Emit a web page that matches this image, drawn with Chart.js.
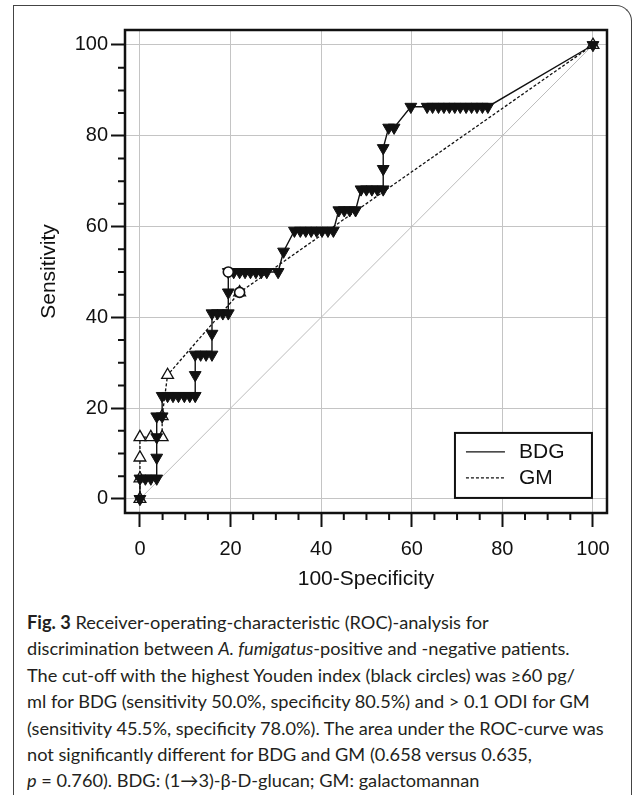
<!DOCTYPE html>
<html>
<head>
<meta charset="utf-8">
<script src="https://cdn.jsdelivr.net/npm/chart.js@4.4.1/dist/chart.umd.min.js"></script>
<style>
  html, body { margin: 0; padding: 0; background: #fff; }
  body { width: 633px; height: 795px; position: relative; overflow: hidden; }
  #box { position: absolute; left: 13px; top: 5px; width: 619px; height: 820px;
         border-left: 1.5px solid #444; border-top: 1.5px solid #444; border-right: 1.5px solid #444;
         border-top-right-radius: 16px; box-sizing: border-box; }
  #wrap { position: absolute; left: 0; top: 0; width: 633px; height: 600px; }
  #caption { position: absolute; left: 27px; top: 609px; font-family: Lato, sans-serif;
             font-size: 18.2px; line-height: 26.4px; color: #231f20; white-space: nowrap; }
</style>
</head>
<body>
<div id="box"></div>
<div id="wrap"><canvas id="roc"></canvas></div>
<div id="caption">
  <div><b>Fig. 3</b> Receiver-operating-characteristic (ROC)-analysis for</div>
  <div>discrimination between <i>A. fumigatus</i>-positive and -negative patients.</div>
  <div>The cut-off with the highest Youden index (black circles) was ≥60 pg/</div>
  <div>ml for BDG (sensitivity 50.0%, specificity 80.5%) and &gt; 0.1 ODI for GM</div>
  <div>(sensitivity 45.5%, specificity 78.0%). The area under the ROC-curve was</div>
  <div>not significantly different for BDG and GM (0.658 versus 0.635,</div>
  <div><i>p</i> = 0.760). BDG: (1→3)-β-D-glucan; GM: galactomannan</div>
</div>
<script>
// ROC points (100-specificity, sensitivity)
const bdgX = [0, 0, 1.2, 2.4, 3.7, 3.7, 3.7, 3.7, 4.9, 4.9, 6.1, 7.3, 8.5, 9.8, 11.0, 12.2,
  12.2, 12.2, 13.4, 14.6, 15.9, 15.9, 15.9, 17.1, 18.3, 19.5, 19.5, 19.5, 20.7, 22.0, 23.2,
  24.4, 25.6, 26.8, 28.0, 30.5, 31.7, 34.1, 35.4, 36.6, 37.8, 39.0, 40.2, 41.5, 42.7, 43.9,
  45.1, 46.3, 47.6, 48.8, 50.0, 51.2, 52.4, 53.7, 53.7, 53.7, 54.9, 56.1, 59.8, 63.4, 64.6,
  65.9, 67.1, 68.3, 69.5, 70.7, 72.0, 73.2, 74.4, 75.6, 76.8, 100];
const bdgY = [0, 4.5, 4.5, 4.5, 4.5, 9.1, 13.6, 18.2, 18.2, 22.7, 22.7, 22.7, 22.7, 22.7, 22.7, 22.7,
  27.3, 31.8, 31.8, 31.8, 31.8, 36.4, 40.9, 40.9, 40.9, 40.9, 45.5, 50.0, 50.0, 50.0, 50.0,
  50.0, 50.0, 50.0, 50.0, 50.0, 54.5, 59.1, 59.1, 59.1, 59.1, 59.1, 59.1, 59.1, 59.1, 63.6,
  63.6, 63.6, 63.6, 68.2, 68.2, 68.2, 68.2, 68.2, 72.7, 77.3, 81.8, 81.8, 86.4, 86.4, 86.4,
  86.4, 86.4, 86.4, 86.4, 86.4, 86.4, 86.4, 86.4, 86.4, 86.4, 100];

const gmX = [0, 0, 0, 0, 2.4, 4.9, 4.9, 6.1, 22.0, 100];
const gmY = [0, 4.5, 9.1, 13.6, 13.6, 13.6, 18.2, 27.3, 45.5, 100];

// Youden cut-offs
const cutX = [19.5, 22.0];
const cutY = [50.0, 45.5];

const refX = [0, 100];
const refY = [0, 100];

const majorTicks = [0, 20, 40, 60, 80, 100];
const minorTicks = [5, 10, 15, 25, 30, 35, 45, 50, 55, 65, 70, 75, 85, 90, 95];

const pts = (xs, ys) => xs.map((x, i) => ({ x: x, y: ys[i] }));

const fontFam = '"Liberation Sans", Arial, sans-serif';

const framePlugin = {
  id: 'frame',
  afterDraw(chart) {
    const { ctx, chartArea: a, scales } = chart;
    const sx = scales.x, sy = scales.y;
    ctx.save();
    // minor ticks
    ctx.strokeStyle = '#111';
    ctx.lineWidth = 2;
    ctx.beginPath();
    minorTicks.forEach(v => {
      const px = sx.getPixelForValue(v);
      ctx.moveTo(px, a.bottom);
      ctx.lineTo(px, a.bottom + 7);
      const py = sy.getPixelForValue(v);
      ctx.moveTo(a.left, py);
      ctx.lineTo(a.left - 7, py);
    });
    ctx.stroke();

    // legend box, bottom right
    const right = sx.getPixelForValue(100) - 1;
    const bottom = sy.getPixelForValue(0) - 1;
    const w = 137, h = 65;
    ctx.fillStyle = '#fff';
    ctx.fillRect(right - w, bottom - h, w, h);
    ctx.lineWidth = 2;
    ctx.strokeStyle = '#111';
    ctx.strokeRect(right - w, bottom - h, w, h);
    ctx.font = '21px ' + fontFam;
    ctx.textBaseline = 'middle';
    ctx.fillStyle = '#111';
    [1, 2].forEach((di, k) => {
      const ds = chart.data.datasets[di];
      const yy = bottom - h + 19 + k * 26;
      ctx.beginPath();
      ctx.setLineDash(ds.borderDash || []);
      ctx.lineWidth = 1.3;
      ctx.moveTo(right - w + 11, yy);
      ctx.lineTo(right - w + 50, yy);
      ctx.stroke();
      ctx.setLineDash([]);
      ctx.fillText(ds.label, right - w + 64, yy);
    });

    // frame
    ctx.lineWidth = 2.5;
    ctx.strokeRect(a.left, a.top, a.right - a.left, a.bottom - a.top);
    ctx.restore();
  }
};

const axisCommon = {
  type: 'linear',
  border: { display: false },
  grid: { color: '#c4c4c4', lineWidth: 1, tickColor: '#111', tickWidth: 2, tickLength: 14 },
  ticks: { color: '#111', font: { family: fontFam, size: 20 }, maxRotation: 0 }
};

new Chart(document.getElementById('roc'), {
  type: 'scatter',
  data: {
    datasets: [
      {
        label: 'cut-off',
        data: pts(cutX, cutY),
        pointStyle: 'circle',
        pointRadius: 5,
        pointBackgroundColor: '#fff',
        pointBorderColor: '#111',
        pointBorderWidth: 1.6,
        showLine: false
      },
      {
        label: 'BDG',
        data: pts(bdgX, bdgY),
        showLine: true,
        borderColor: '#111',
        borderWidth: 1.4,
        pointStyle: 'triangle',
        pointRotation: 180,
        pointRadius: 6.8,
        pointBackgroundColor: '#111',
        pointBorderColor: '#111',
        pointBorderWidth: 1
      },
      {
        label: 'GM',
        data: pts(gmX, gmY),
        showLine: true,
        borderColor: '#111',
        borderWidth: 1.3,
        borderDash: [3, 2],
        pointStyle: 'triangle',
        pointRadius: 6.8,
        pointBackgroundColor: '#fff',
        pointBorderColor: '#111',
        pointBorderWidth: 1.3
      },
      {
        label: 'reference',
        data: pts(refX, refY),
        showLine: true,
        borderColor: '#bcbcbc',
        borderWidth: 1,
        pointRadius: 0
      }
    ]
  },
  options: {
    responsive: true,
    maintainAspectRatio: false,
    animation: false,
    layout: { padding: { top: 30, right: 26, left: 0, bottom: 0 } },
    plugins: { legend: { display: false }, tooltip: { enabled: false } },
    elements: { line: { tension: 0 } },
    scales: {
      x: {
        ...axisCommon,
        min: -3.3,
        max: 103.1,
        afterBuildTicks: s => { s.ticks = majorTicks.map(v => ({ value: v })); },
        afterFit: s => { s.height = 87; },
        ticks: { ...axisCommon.ticks, padding: 10 },
        title: { display: true, text: '100-Specificity', color: '#111',
                 font: { family: fontFam, size: 21 }, padding: { top: 0, bottom: 8 } }
      },
      y: {
        ...axisCommon,
        min: -3.1,
        max: 103.3,
        afterBuildTicks: s => { s.ticks = majorTicks.map(v => ({ value: v })); },
        afterFit: s => { s.width = 125; },
        ticks: { ...axisCommon.ticks, padding: 3 },
        title: { display: true, text: 'Sensitivity', color: '#111',
                 font: { family: fontFam, size: 21 }, padding: { top: 37, bottom: 0 } }
      }
    }
  },
  plugins: [framePlugin]
});
</script>
</body>
</html>
